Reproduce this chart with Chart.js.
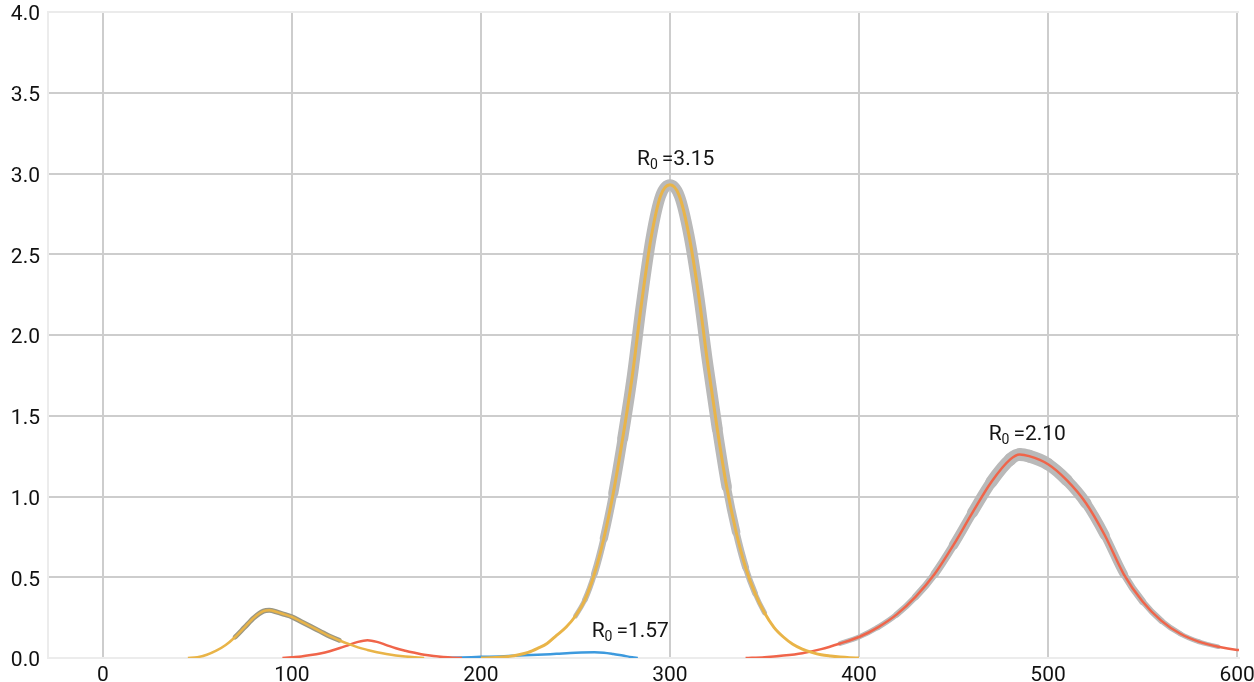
<!DOCTYPE html>
<html>
<head>
<meta charset="utf-8">
<script src="https://cdn.jsdelivr.net/npm/chart.js@4.4.1/dist/chart.umd.min.js"></script>
<style>
html, body { margin: 0; padding: 0; background: #fff; }
#wrap { width: 1254px; height: 682px; }
</style>
</head>
<body>
<div id="wrap"><canvas id="chart" width="1254" height="682"></canvas></div>
<script>
// Axis ticks
const xTicks = [0, 100, 200, 300, 400, 500, 600];

// First small wave (yellow) and its echo (red)
const smallYellowX = [45, 50, 55, 60, 65, 70, 75, 80, 85, 88, 92, 96, 100, 105, 110, 115, 120, 125, 130, 135, 140, 145, 150, 155, 160, 165, 170];
const smallYellowY = [0, 0.005, 0.02, 0.045, 0.08, 0.13, 0.19, 0.25, 0.29, 0.295, 0.285, 0.27, 0.255, 0.225, 0.195, 0.165, 0.135, 0.11, 0.087, 0.066, 0.05, 0.036, 0.025, 0.016, 0.009, 0.004, 0];

const smallRedX = [95, 100, 105, 110, 115, 120, 125, 130, 135, 140, 145, 150, 155, 160, 165, 170, 175, 180, 185, 190];
const smallRedY = [0, 0.005, 0.01, 0.018, 0.028, 0.042, 0.06, 0.08, 0.1, 0.11, 0.1, 0.08, 0.06, 0.045, 0.032, 0.02, 0.012, 0.006, 0.002, 0];

// R0 = 1.57 wave (blue)
const blueX = [180, 190, 200, 210, 220, 230, 240, 250, 260, 265, 270, 275, 280, 283];
const blueY = [0, 0.003, 0.007, 0.01, 0.015, 0.02, 0.026, 0.032, 0.035, 0.033, 0.025, 0.015, 0.005, 0];

// R0 = 3.15 wave (yellow)
const bigYellowX = [200, 205, 210, 215, 220, 225, 230, 235, 240, 245, 250, 255, 260, 265, 270, 275, 280, 285, 290, 295, 300, 305, 310, 315, 320, 325, 330, 335, 340, 345, 350, 355, 360, 365, 370, 375, 380, 385, 390, 395, 400];
const bigYellowY = [0, 0.002, 0.005, 0.01, 0.02, 0.035, 0.06, 0.09, 0.14, 0.19, 0.26, 0.36, 0.52, 0.74, 1.02, 1.36, 1.74, 2.2, 2.6, 2.86, 2.93, 2.86, 2.62, 2.26, 1.82, 1.42, 1.06, 0.78, 0.56, 0.4, 0.28, 0.19, 0.13, 0.085, 0.055, 0.035, 0.02, 0.012, 0.006, 0.002, 0];

// R0 = 2.10 wave (red)
const bigRedX = [340, 350, 360, 370, 380, 390, 400, 410, 420, 430, 440, 450, 460, 470, 480, 485, 490, 500, 510, 520, 530, 540, 550, 560, 570, 580, 590, 600, 601];
const bigRedY = [0, 0.005, 0.015, 0.03, 0.055, 0.09, 0.13, 0.19, 0.27, 0.38, 0.52, 0.7, 0.9, 1.09, 1.23, 1.26, 1.25, 1.2, 1.1, 0.96, 0.76, 0.52, 0.35, 0.23, 0.15, 0.1, 0.07, 0.05, 0.049];

// Peak labels (x, baseline y in data units)
const labelValues = ['3.15', '2.10', '1.57'];
const labelX = [303, 489, 279];
const labelY = [3.05, 1.35, 0.13];

function toPoints(xs, ys) {
    return xs.map((x, i) => ({ x: x, y: ys[i] }));
}

function lineSet(xs, ys, color, width, order) {
    return {
        data: toPoints(xs, ys),
        borderColor: color,
        borderWidth: width,
        pointRadius: 0,
        fill: false,
        cubicInterpolationMode: 'monotone',
        order: order
    };
}

// grey spread band, thicker where the curve is higher
function bandSet(xs, ys, color, widthFn) {
    const ds = lineSet(xs, ys, color, 1, 5);
    ds.borderCapStyle = 'round';
    ds.borderJoinStyle = 'round';
    ds.segment = {
        borderWidth: ctx => widthFn((ctx.p0.parsed.y + ctx.p1.parsed.y) / 2),
        borderColor: ctx => widthFn((ctx.p0.parsed.y + ctx.p1.parsed.y) / 2) < 1 ? 'rgba(0,0,0,0)' : color
    };
    return ds;
}

const peakLabels = {
    id: 'peakLabels',
    afterDatasetsDraw(chart) {
        const { ctx, scales } = chart;
        ctx.save();
        ctx.fillStyle = '#151515';
        ctx.textBaseline = 'alphabetic';
        ctx.textAlign = 'left';
        labelValues.forEach((val, i) => {
            const cx = scales.x.getPixelForValue(labelX[i]);
            const by = scales.y.getPixelForValue(labelY[i]);
            const rest = '=' + val;
            ctx.font = '21px Roboto';
            const wR = ctx.measureText('R').width;
            const wRest = ctx.measureText(rest).width;
            ctx.font = '14px Roboto';
            const wSub = ctx.measureText('0').width + 4;
            let x = cx - (wR + wSub + wRest) / 2;
            ctx.font = '21px Roboto';
            ctx.fillText('R', x, by);
            x += wR;
            ctx.font = '14px Roboto';
            ctx.fillText('0', x, by + 4);
            x += wSub;
            ctx.font = '21px Roboto';
            ctx.fillText(rest, x, by);
        });
        ctx.restore();
    }
};

const greyBand = '#b9b9b9';

new Chart(document.getElementById('chart').getContext('2d'), {
    type: 'line',
    data: {
        datasets: [
            lineSet(bigYellowX, bigYellowY, '#e9b448', 3, 1),
            lineSet(bigRedX, bigRedY, '#f0654a', 2.5, 1),
            lineSet(smallYellowX, smallYellowY, '#e9b448', 2.5, 1),
            lineSet(smallRedX, smallRedY, '#f0654a', 2.5, 1),
            lineSet(blueX, blueY, '#3d9ade', 2.5, 1),
            bandSet(bigYellowX, bigYellowY, greyBand, y => y < 0.3 ? 0 : Math.min(11, 3 + y * 6)),
            bandSet(bigRedX, bigRedY, greyBand, y => y < 0.08 ? 0 : Math.min(13, 4 + y * 7)),
            bandSet(smallYellowX, smallYellowY, '#9a9784', y => y > 0.11 ? 5 : 0)
        ]
    },
    options: {
        responsive: false,
        animation: false,
        devicePixelRatio: 1,
        layout: { padding: { top: 12, right: 15, left: 0, bottom: 0 } },
        plugins: {
            legend: { display: false },
            tooltip: { enabled: false }
        },
        scales: {
            x: {
                type: 'linear',
                min: -29,
                max: 601,
                afterBuildTicks: s => { s.ticks = xTicks.map(v => ({ value: v })); },
                afterFit: s => { s.height = 24; s.paddingRight = 15; s.paddingLeft = 0; },
                ticks: {
                    font: { family: 'Roboto', size: 21 },
                    color: '#111',
                    padding: 5,
                    maxRotation: 0,
                    autoSkip: false
                },
                grid: { color: '#cdcdcd', lineWidth: 2, drawTicks: false },
                border: { display: true, color: '#ececec', width: 2 }
            },
            y: {
                min: 0,
                max: 4,
                afterFit: s => { s.width = 48; s.paddingTop = 0; s.paddingBottom = 0; },
                ticks: {
                    stepSize: 0.5,
                    callback: v => v.toFixed(1),
                    font: { family: 'Roboto', size: 21 },
                    color: '#111',
                    padding: 8,
                    labelOffset: 3
                },
                grid: {
                    color: ctx => (ctx.tick && (ctx.tick.value === 4 || ctx.tick.value === 0)) ? '#ebebeb' : '#cdcdcd',
                    lineWidth: 2,
                    drawTicks: false
                },
                border: { display: true, color: '#ececec', width: 2 }
            }
        }
    },
    plugins: [peakLabels]
});
</script>
</body>
</html>
